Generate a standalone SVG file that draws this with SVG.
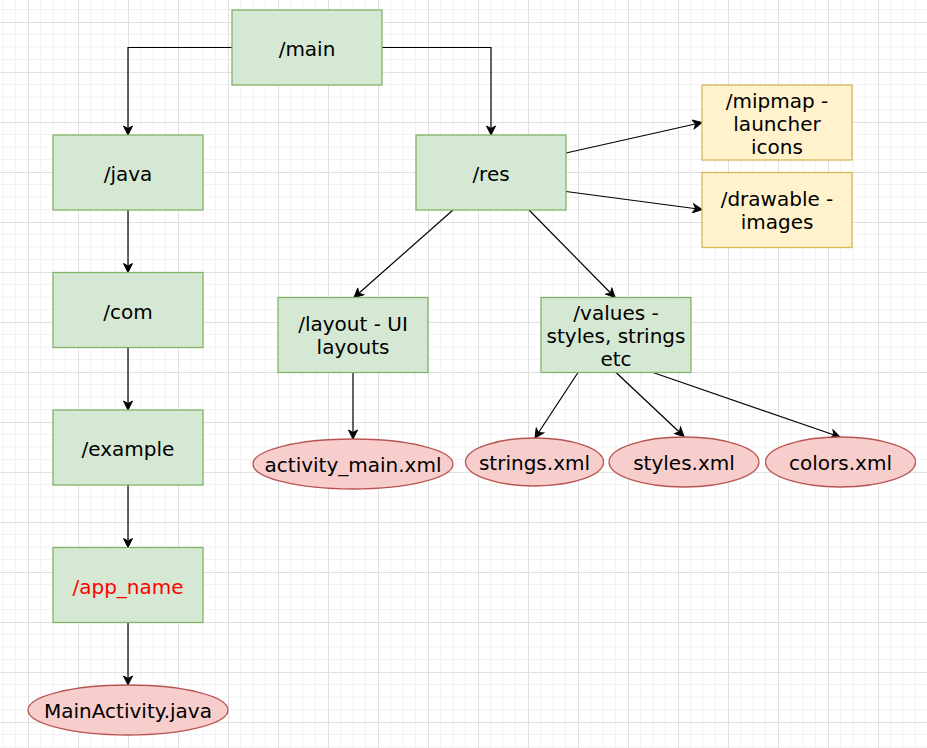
<svg xmlns="http://www.w3.org/2000/svg" width="927" height="748" viewBox="0 0 927 748">
<style>
.g{fill:#d5e8d4;stroke:#82b366;stroke-width:1.3}
.y{fill:#fff2cc;stroke:#d6b656;stroke-width:1.3}
.r{fill:#f8cecc;stroke:#b85450;stroke-width:1.3}
text{font-family:"DejaVu Sans","Liberation Sans",sans-serif;font-size:20px;fill:#000;text-anchor:middle}
.c path{fill:none;stroke:#000;stroke-width:1.2}
</style>
<defs>
<pattern id="grid" x="28" y="22" width="50" height="50" patternUnits="userSpaceOnUse">
<path d="M12.5,0V50M25,0V50M37.5,0V50M0,12.5H50M0,25H50M0,37.5H50" stroke="#f2f2f2" stroke-width="1" fill="none"/>
<path d="M0.5,0V50M0,0.5H50" stroke="#e0e0e0" stroke-width="1" fill="none"/>
</pattern>
<marker id="a" viewBox="-10 -5 11 10" refX="0" refY="0" markerWidth="11" markerHeight="10" markerUnits="userSpaceOnUse" orient="auto">
<path d="M0,0L-9,-4.5L-6.5,0L-9,4.5Z" fill="#000" stroke="#000" stroke-width="1"/>
</marker>
</defs>
<rect width="927" height="748" fill="#fff"/>
<rect width="927" height="748" fill="url(#grid)"/>
<g id="connectors" class="c" marker-end="url(#a)">
<path d="M232,47.5H128V135" marker-end="url(#a)"/>
<path d="M382,47.5H491V135" marker-end="url(#a)"/>
<path d="M128,210V272.5" marker-end="url(#a)"/>
<path d="M128,347.5V410" marker-end="url(#a)"/>
<path d="M128,485V547.5" marker-end="url(#a)"/>
<path d="M128,622.5V685" marker-end="url(#a)"/>
<path d="M566,153L702,122.5" marker-end="url(#a)"/>
<path d="M566,191.5L702,209.5" marker-end="url(#a)"/>
<path d="M453,210L354,297.5" marker-end="url(#a)"/>
<path d="M529,210L615,297.5" marker-end="url(#a)"/>
<path d="M353,372.5V439" marker-end="url(#a)"/>
<path d="M578,372.5L535,438" marker-end="url(#a)"/>
<path d="M616,372.5L684,436.5" marker-end="url(#a)"/>
<path d="M653,372.5L840,437" marker-end="url(#a)"/>
</g>
<g id="main"><rect class="g" x="232" y="10" width="150" height="75"/><text x="307" y="56">/main</text></g>
<g id="java"><rect class="g" x="53" y="135" width="150" height="75"/><text x="128" y="181">/java</text></g>
<g id="com"><rect class="g" x="53" y="272.5" width="150" height="75"/><text x="128" y="318.5">/com</text></g>
<g id="example"><rect class="g" x="53" y="410" width="150" height="75"/><text x="128" y="456">/example</text></g>
<g id="app_name"><rect class="g" x="53" y="547.5" width="150" height="75"/><text x="128" y="593.5" style="fill:#ff0000">/app_name</text></g>
<g id="mainactivity"><ellipse class="r" cx="128" cy="710" rx="100" ry="25"/><text x="128" y="717.5">MainActivity.java</text></g>
<g id="res"><rect class="g" x="416" y="135" width="150" height="75"/><text x="491" y="181">/res</text></g>
<g id="mipmap"><rect class="y" x="702" y="85" width="150" height="75"/><text x="777" y="108">/mipmap -</text><text x="777" y="131">launcher</text><text x="777" y="154">icons</text></g>
<g id="drawable"><rect class="y" x="702" y="172.5" width="150" height="75"/><text x="777" y="206">/drawable -</text><text x="777" y="229">images</text></g>
<g id="layout"><rect class="g" x="278" y="297.5" width="150" height="75"/><text x="353" y="331">/layout - UI</text><text x="353" y="354">layouts</text></g>
<g id="values"><rect class="g" x="541" y="297.5" width="150" height="75"/><text x="616" y="319.5">/values -</text><text x="616" y="342.5">styles, strings</text><text x="616" y="365.5">etc</text></g>
<g id="activity_main"><ellipse class="r" cx="353" cy="464" rx="100" ry="25"/><text x="353" y="471.5">activity_main.xml</text></g>
<g id="strings"><ellipse class="r" cx="534.5" cy="462" rx="69" ry="24"/><text x="534.5" y="469.5">strings.xml</text></g>
<g id="styles"><ellipse class="r" cx="684" cy="462" rx="75" ry="25"/><text x="684" y="469.5">styles.xml</text></g>
<g id="colors"><ellipse class="r" cx="840.5" cy="462" rx="75" ry="25"/><text x="840.5" y="469.5">colors.xml</text></g>
</svg>
